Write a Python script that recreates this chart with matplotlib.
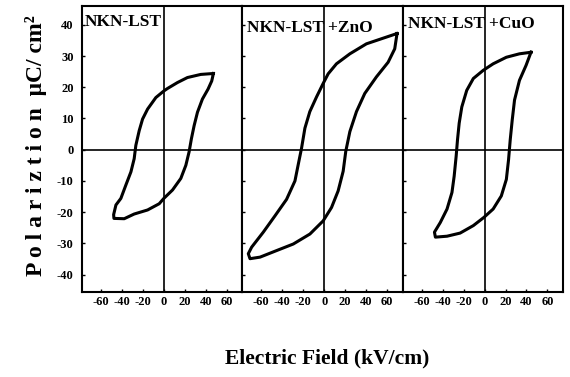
import matplotlib.pyplot as plt

plt.rcParams['font.family'] = ['Liberation Serif', 'DejaVu Serif']
plt.rcParams['font.weight'] = 'bold'

# sample names
samples = ["NKN-LST", "NKN-LST +ZnO", "NKN-LST +CuO"]

# P-E loops (kV/cm, uC/cm2)
# each loop: positive tip -> upper branch -> negative tip -> lower branch -> positive tip
e_lst = [47.3, 35.2, 22.5, 13, 3.5, 0, -7.6, -15.5, -20.3, -23.5, -26.7, -28.3, -31.4, -36.2, -41, -45.7,
         -47.9, -47.6, -37.8, -28.3, -15.5, -4.4, 0, 8.3, 16.2, 21, 24.1, 26.3, 28.9, 32.1, 36.8, 42.2,
         45.7, 47.3]
p_lst = [24.4, 24.1, 23.1, 21.5, 19.6, 18.8, 16.7, 13, 9.8, 6.1, 1.4, -2.9, -7.1, -11.3, -15.6, -17.7,
         -20.8, -22, -22.1, -20.6, -19.3, -17.3, -15.6, -12.9, -9.2, -5, -0.7, 3.5, 7.7, 12, 16.2, 19.4,
         22, 24.4]

e_zno = [69.5, 56.2, 40.3, 24.5, 11.7, 3.8, -1, -7.3, -13.7, -18.4, -21.6, -24.8, -27.9, -35.9, -47,
         -58.1, -69.2, -72.4, -70.8, -61.2, -45.4, -29.5, -13.6, -1, 7, 13.3, 18.1, 20.6, 24.5, 30.8,
         38.7, 49.8, 61, 67.3, 69.5]
p_zno = [37.2, 35.7, 33.9, 30.7, 27.5, 24.3, 21.2, 16.9, 12.2, 6.9, 0.5, -4.8, -10, -15.9, -21.2,
         -26.4, -31.2, -33.3, -34.9, -34.4, -32.3, -30.2, -27, -22.8, -18.5, -13.2, -6.9, -0.5, 5.8, 12.2,
         18, 23.3, 28, 32.3, 37.2]

e_cuo = [44.3, 33.3, 20.8, 8.2, -1.3, -10.7, -17, -21.7, -24.2, -25.8, -27.1, -29, -31.1, -35.8, -42.2,
         -47.8, -46.9, -35.8, -23.3, -10.7, -0.7, 8.2, 16, 20.8, 22.9, 24.5, 26.4, 28.6, 33.3, 39.6, 44.3]
p_cuo = [31.2, 30.7, 29.6, 27.5, 25.4, 22.8, 19, 13.7, 8.5, 3.2, -2.1, -8.5, -13.7, -19, -23.3,
         -26.4, -28, -27.7, -26.7, -24.3, -21.7, -19, -14.8, -9.5, -3.2, 3.2, 9.5, 15.9, 22.2, 27, 31.2]

loops = [(e_lst, p_lst), (e_zno, p_zno), (e_cuo, p_cuo)]

x_ticks = [-60, -40, -20, 0, 20, 40, 60]
y_ticks = [-40, -30, -20, -10, 0, 10, 20, 30, 40]

fig, axes = plt.subplots(1, 3, figsize=(5.7, 3.77), dpi=100, sharey=True)
fig.subplots_adjust(left=0.144, right=0.988, top=0.984, bottom=0.226, wspace=0)

title_y = [0.944, 0.923, 0.937]
for i, ax in enumerate(axes):
    e, p = loops[i]
    ax.plot(e, p, color="black", lw=2.2, solid_joinstyle="round")
    ax.axhline(0, color="black", lw=1.2)
    ax.axvline(0, color="black", lw=1.2)
    ax.set_xlim(-78, 75)
    ax.set_ylim(-45.5, 46)
    ax.set_xticks(x_ticks)
    ax.set_xticklabels([str(t) for t in x_ticks], fontsize=9)
    ax.set_yticks(y_ticks)
    ax.tick_params(direction="in", length=2.5, width=1, pad=3)
    ax.tick_params(axis="y", labelsize=9, pad=6)
    for s in ax.spines.values():
        s.set_linewidth(1.5)
    ax.text(0.015 if i == 0 else 0.03, title_y[i], samples[i], transform=ax.transAxes,
            fontsize=12.5, fontweight="bold", ha="left", va="center")

axes[0].set_yticklabels([str(t) for t in y_ticks])

fig.text(36 / 570, 1 - 146 / 377, "P o l a r i z t i o n  \u03bcC/ cm\u00b2", rotation=90,
         ha="center", va="center", fontsize=17, fontweight="bold")
fig.text(327 / 570, 1 - 358 / 377, "Electric Field (kV/cm)", ha="center", va="center",
         fontsize=15.5, fontweight="bold")

plt.savefig("out.png", dpi=100)
